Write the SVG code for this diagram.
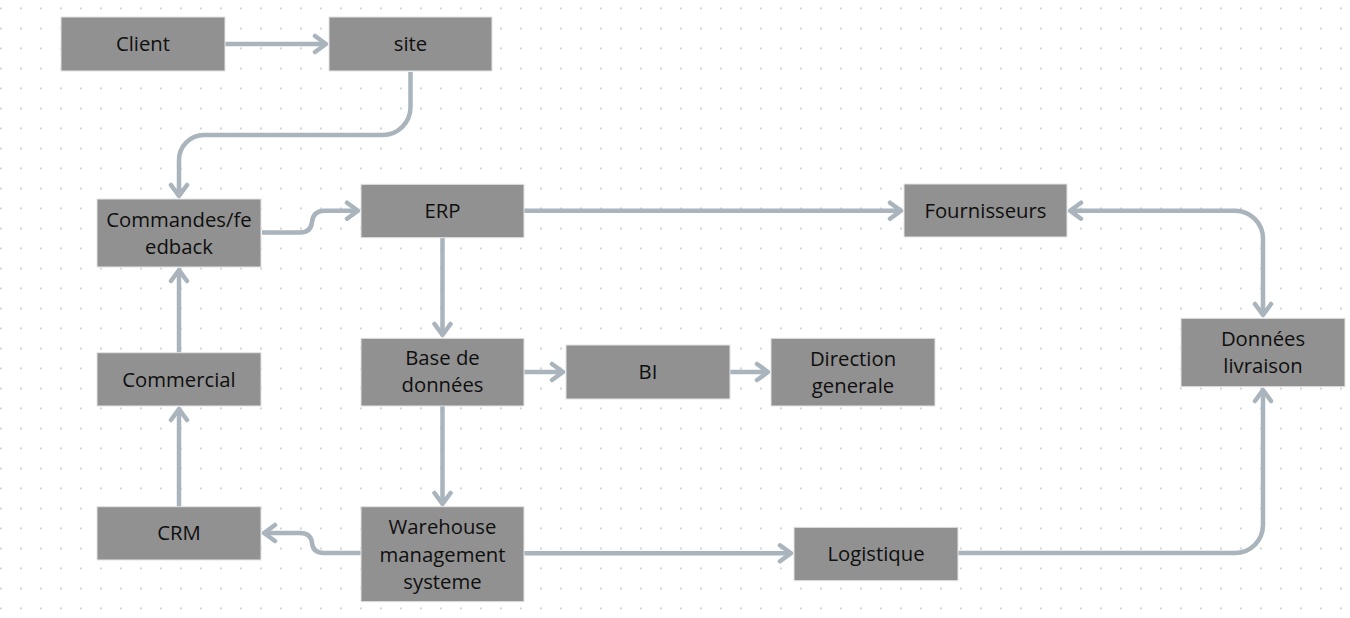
<svg xmlns="http://www.w3.org/2000/svg" width="1350" height="618" viewBox="0 0 1350 618">
<defs>
<pattern id="dots" x="-9" y="-1.5" width="20" height="20" patternUnits="userSpaceOnUse">
<circle cx="10" cy="10" r="1.1" fill="#c6cbd4"/>
</pattern>
<marker id="ah" viewBox="-16 -11 20 22" refX="0" refY="0" markerWidth="20" markerHeight="22" markerUnits="userSpaceOnUse" orient="auto-start-reverse">
<path d="M-11,-8 L0,0 L-11,8" fill="none" stroke="#a9b4bd" stroke-width="4.5" stroke-linecap="round" stroke-linejoin="round"/>
</marker>
</defs>
<style>
.box{fill:#919191;stroke:#e4e4e4;stroke-width:1}
.lbl{font-family:"Open Sans","Noto Sans","Liberation Sans",sans-serif;font-size:20.3px;fill:#0f0f0f;text-anchor:middle}
.con{fill:none;stroke:#a9b4bd;stroke-width:4.5;stroke-linecap:butt;stroke-linejoin:round}
.arr{marker-end:url(#ah)}
</style>
<rect x="0" y="0" width="1350" height="618" fill="#ffffff"/>
<rect x="0" y="0" width="1350" height="618" fill="url(#dots)"/>

<g id="connectors">
<path class="con arr" d="M225,44 H326"/>
<path class="con arr" d="M410.5,72 V107 A28,28 0 0 1 382.5,135 H204 A25,25 0 0 0 179,160 V196"/>
<path class="con arr" d="M262,232.5 H300 Q311,232.5 312,222 Q313,210.7 325,210.7 H358"/>
<path class="con arr" d="M524,210.7 H901"/>
<path class="con arr" d="M442.5,238 V335"/>
<path class="con arr" d="M524,372 H563"/>
<path class="con arr" d="M730,372 H768"/>
<path class="con arr" d="M442.5,406 V504"/>
<path class="con arr" d="M361,553 H324 Q313,553 312,543 Q311,533 300,533 H264"/>
<path class="con arr" d="M179,507 V409"/>
<path class="con arr" d="M179,353 V270"/>
<path class="con arr" d="M524,553.3 H791"/>
<path class="con arr" d="M958,553 H1235 A28,28 0 0 0 1263,525 V390"/>
<path class="con" marker-start="url(#ah)" marker-end="url(#ah)" d="M1070,210.7 H1235 A28,28 0 0 1 1263,238.7 V315"/>
</g>

<g id="client"><rect class="box" x="61" y="17" width="164" height="54"/><text class="lbl" x="143" y="51">Client</text></g>
<g id="site"><rect class="box" x="329" y="17" width="163" height="54"/><text class="lbl" x="410.5" y="51">site</text></g>
<g id="commandes"><rect class="box" x="97" y="199" width="164" height="68"/><text class="lbl" x="179" y="227">Commandes/fe</text><text class="lbl" x="179" y="254">edback</text></g>
<g id="erp"><rect class="box" x="361" y="184.3" width="163" height="53.4"/><text class="lbl" x="442.5" y="218">ERP</text></g>
<g id="fournisseurs"><rect class="box" x="904" y="184" width="163" height="53"/><text class="lbl" x="985.5" y="218">Fournisseurs</text></g>
<g id="base"><rect class="box" x="361" y="338.3" width="163" height="67.7"/><text class="lbl" x="442.5" y="365">Base de</text><text class="lbl" x="442.5" y="392">données</text></g>
<g id="bi"><rect class="box" x="566" y="345" width="164" height="54"/><text class="lbl" x="648" y="379">BI</text></g>
<g id="direction"><rect class="box" x="771" y="338.3" width="164" height="67.7"/><text class="lbl" x="853" y="365.5">Direction</text><text class="lbl" x="853" y="392.5">generale</text></g>
<g id="livraison"><rect class="box" x="1181" y="318.3" width="164" height="68.4"/><text class="lbl" x="1263" y="346">Données</text><text class="lbl" x="1263" y="373">livraison</text></g>
<g id="commercial"><rect class="box" x="97" y="352.7" width="164" height="53.3"/><text class="lbl" x="179" y="386.5">Commercial</text></g>
<g id="crm"><rect class="box" x="97" y="506.7" width="164" height="53.3"/><text class="lbl" x="179" y="540">CRM</text></g>
<g id="warehouse"><rect class="box" x="361" y="506.7" width="163" height="95"/><text class="lbl" x="442.5" y="534.3">Warehouse</text><text class="lbl" x="442.5" y="561.5">management</text><text class="lbl" x="442.5" y="588.5">systeme</text></g>
<g id="logistique"><rect class="box" x="794" y="527.3" width="164" height="53.4"/><text class="lbl" x="876" y="561">Logistique</text></g>
</svg>
